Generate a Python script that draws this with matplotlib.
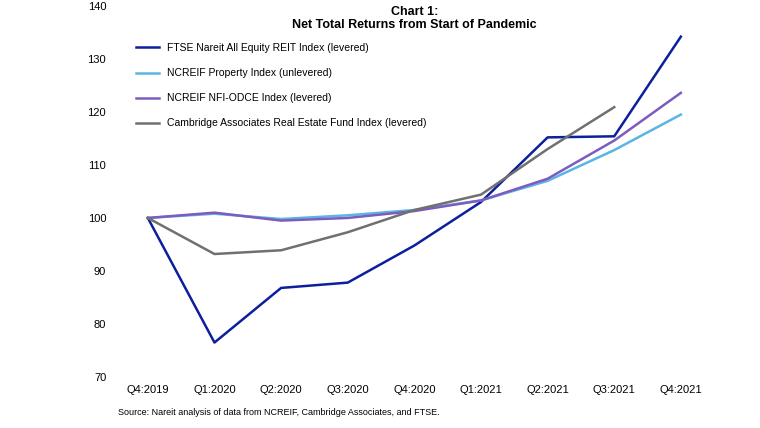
import matplotlib
matplotlib.use("Agg")
import matplotlib.pyplot as plt

quarters = ["Q4:2019","Q1:2020","Q2:2020","Q3:2020","Q4:2020","Q1:2021","Q2:2021","Q3:2021","Q4:2021"]
ftse = [100, 76.5, 86.8, 87.8, 94.8, 103.0, 115.2, 115.4, 134.2]
ncreif = [100, 100.8, 99.8, 100.5, 101.5, 103.3, 107.0, 112.8, 119.5]
odce = [100, 101.0, 99.5, 100.0, 101.3, 103.3, 107.4, 114.6, 123.6]
cambridge = [100, 93.2, 93.9, 97.3, 101.5, 104.4, 113.0, 120.9]

plt.rcParams['font.family'] = ['Liberation Sans', 'DejaVu Sans']
fig = plt.figure(figsize=(7.6, 4.28), dpi=100)
ax = fig.add_axes([0.1507, 0.1192, 0.789, 0.867])
x = list(range(len(quarters)))
ax.plot(x, ftse, color='#0c1f9c', lw=1.8, label='FTSE Nareit All Equity REIT Index (levered)')
ax.plot(x, ncreif, color='#5bb5e3', lw=1.8, label='NCREIF Property Index (unlevered)')
ax.plot(x, odce, color='#7d5cbf', lw=1.8, label='NCREIF NFI-ODCE Index (levered)')
ax.plot(x[:len(cambridge)], cambridge, color='#707070', lw=1.8, label='Cambridge Associates Real Estate Fund Index (levered)')
ax.set_xlim(-0.5, len(quarters) - 0.5)
ax.set_ylim(70, 140)
ax.set_yticks(range(70, 141, 10))
ax.set_xticks(x)
ax.set_xticklabels(quarters)
for s in ax.spines.values():
    s.set_visible(False)
ax.tick_params(length=0, labelsize=8, pad=6)
ax.legend(loc='upper left', bbox_to_anchor=(0.02, 0.925), frameon=False, fontsize=7.5,
          handlelength=2.2, labelspacing=1.45)
fig.text(0.545, 0.985, "Chart 1:\nNet Total Returns from Start of Pandemic", ha='center', va='top',
         fontsize=9, fontweight='bold', linespacing=1.1)
fig.text(0.155, 0.03, "Source: Nareit analysis of data from NCREIF, Cambridge Associates, and FTSE.", fontsize=6.5)
fig.savefig("out.png", dpi=100)
